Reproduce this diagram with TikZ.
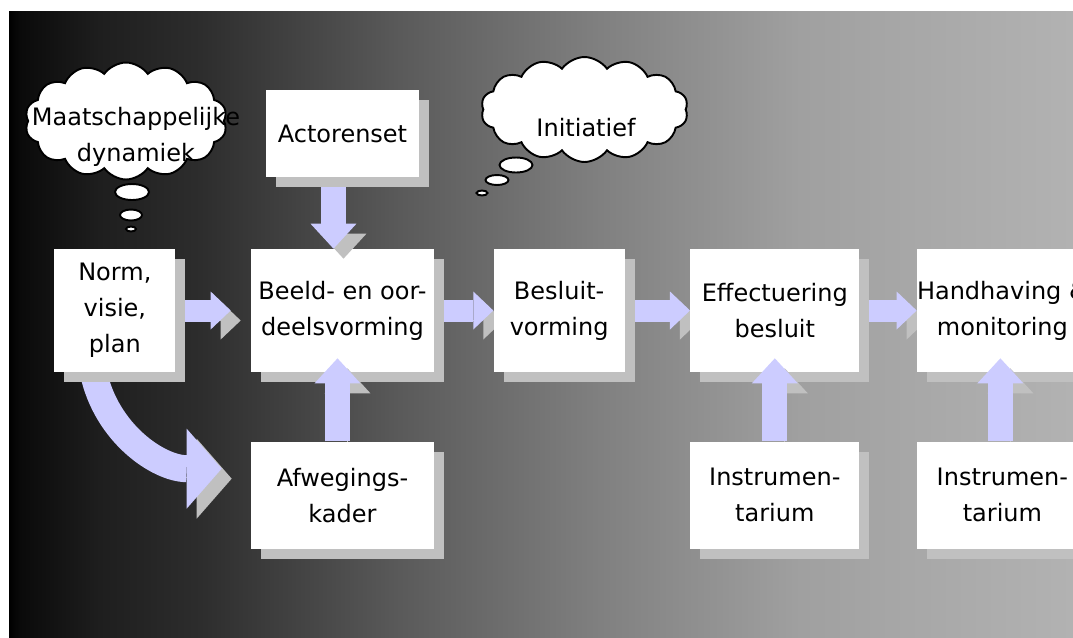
\documentclass[tikz,border=0pt]{standalone}
\usepackage{fontspec}
\usepackage{xcolor}
\usepackage{tikz}
\usetikzlibrary{positioning,arrows.meta,shapes.symbols}
\newfontfamily\boxfont{DejaVu Sans}
\pgfdeclarelayer{background}
\pgfdeclarelayer{hflow}
\pgfdeclarelayer{vflow}
\pgfdeclarelayer{front}
\pgfsetlayers{background,hflow,main,vflow,front}
\definecolor{lavender}{RGB}{204,204,255}
\definecolor{shadowgray}{RGB}{192,192,192}
\definecolor{bgA}{gray}{0.04}
\definecolor{bgB}{gray}{0.118}
\definecolor{bgC}{gray}{0.176}
\definecolor{bgD}{gray}{0.353}
\definecolor{bgE}{gray}{0.502}
\definecolor{bgF}{gray}{0.627}
\definecolor{bgG}{gray}{0.698}
\pgfdeclarehorizontalshading{stageshade}{100bp}{color(0bp)=(black); color(25bp)=(black); color(25.52bp)=(bgA); color(29.28bp)=(bgB); color(33.98bp)=(bgC); color(43.38bp)=(bgD); color(52.77bp)=(bgE); color(62.17bp)=(bgF); color(75bp)=(bgG); color(100bp)=(bgG)}
\tikzstyle{stage}=[rectangle, fill=white, draw=none, inner sep=0pt, align=center, font=\boxfont\fontsize{13.66}{20.5}\selectfont, preaction={fill=shadowgray, transform canvas={shift={(0.2cm,-0.2cm)}}}]
\tikzstyle{thought}=[cloud, draw=black, line width=1.1pt, fill=white, cloud puffs=14, cloud puff arc=110, aspect=1.9, inner sep=0pt]
\tikzstyle{thoughttext}=[align=center, inner sep=0pt, font=\boxfont\fontsize{13.66}{20.5}\selectfont]
\tikzstyle{bubble}=[draw=black, line width=1.1pt, fill=white]
\tikzstyle{hflowArrow}=[draw=lavender, line width=0.44cm, -{Triangle[width=0.76cm, length=0.4cm, line width=0pt]}, preaction={draw=shadowgray, transform canvas={shift={(0.2cm,-0.2cm)}}}]
\tikzstyle{vflowArrow}=[draw=lavender, line width=0.5cm, -{Triangle[width=0.92cm, length=0.5cm, line width=0pt]}, preaction={draw=shadowgray, transform canvas={shift={(0.2cm,-0.2cm)}}}]
\tikzstyle{bendArrow}=[draw=lavender, line width=0.54cm, -{Triangle[width=1.6cm, length=0.7cm, line width=0pt]}, preaction={draw=shadowgray, transform canvas={shift={(0.2cm,-0.2cm)}}}]

\begin{document}
\begin{tikzpicture}[x=0.02cm, y=-0.02cm]
        \useasboundingbox (0,0) rectangle (1073,637);
        \clip (0,0) rectangle (1073,637);
        \begin{pgfonlayer}{background}
            \fill[white] (0,0) rectangle (1073,637);
            \shade[shading=stageshade] (9,11) rectangle (1073,637);

            %Thought clouds
            \node [style=thought, minimum width=4.04cm, minimum height=2.34cm] (dynCloud) at (126,121) {};
            \node [style=thoughttext] (dynText) at ([xshift=0.2cm, yshift=-0.32cm]dynCloud.center) {Maatschappelijke\\dynamiek};
            \draw [style=bubble] (132,192) ellipse [x radius=0.34cm, y radius=0.16cm];
            \draw [style=bubble] (131,215) ellipse [x radius=0.22cm, y radius=0.11cm];
            \draw [style=bubble] (131,229) ellipse [x radius=0.1cm, y radius=0.05cm];

            \node [style=thought, minimum width=4.14cm, minimum height=2.1cm] (initCloud) at (584.5,109.5) {};
            \node [style=thoughttext] (initText) at ([xshift=0.03cm, yshift=-0.37cm]initCloud.center) {Initiatief};
            \draw [style=bubble] (516,165) ellipse [x radius=0.33cm, y radius=0.15cm];
            \draw [style=bubble] (497,180) ellipse [x radius=0.23cm, y radius=0.1cm];
            \draw [style=bubble] (482,193) ellipse [x radius=0.11cm, y radius=0.05cm];
        \end{pgfonlayer}

        \node [style=stage, minimum width=3.66cm, minimum height=2.46cm] (Beeld) at (342.5,310.5) {Beeld- en oor-\\deelsvorming};
        \node [style=stage, minimum width=2.42cm, minimum height=2.46cm, left=1.5cm of Beeld] (Norm) {Norm,\\visie,\\plan};
        \node [style=stage, minimum width=2.62cm, minimum height=2.46cm, right=1.18cm of Beeld] (Besluit) {Besluit-\\vorming};
        \node [style=stage, minimum width=3.38cm, minimum height=2.46cm, right=1.3cm of Besluit] (Effect) {Effectuering\\besluit};
        \node [style=stage, minimum width=3.4cm, minimum height=2.46cm, right=1.14cm of Effect] (Handh) {Handhaving \&\\monitoring};

        \begin{pgfonlayer}{front}
            \node [style=stage, minimum width=3.06cm, minimum height=1.74cm, above=1.42cm of Beeld] (Actor) {Actorenset};
            \node [style=stage, minimum width=3.66cm, minimum height=2.14cm, below=1.38cm of Beeld] (Afweg) {Afwegings-\\kader};
            \node [style=stage, minimum width=3.38cm, minimum height=2.14cm, below=1.38cm of Effect] (Instr1) {Instrumen-\\tarium};
            \node [style=stage, minimum width=3.4cm, minimum height=2.14cm, below=1.38cm of Handh] (Instr2) {Instrumen-\\tarium};
        \end{pgfonlayer}

        \begin{pgfonlayer}{hflow}
            \draw [style=hflowArrow] (Norm.east) -- ([xshift=-0.4cm]Beeld.west);
            \draw [style=hflowArrow] (Beeld.east) -- (Besluit.west);
            \draw [style=hflowArrow] (Besluit.east) -- (Effect.west);
            \draw [style=hflowArrow] (Effect.east) -- (Handh.west);
            \draw [style=bendArrow] ([xshift=-0.43cm]Norm.south) to[out=-78, in=180] ([xshift=-0.58cm, yshift=0.53cm]Afweg.west);
        \end{pgfonlayer}

        \begin{pgfonlayer}{vflow}
            \draw [style=vflowArrow] ([xshift=-0.18cm]Actor.south) -- ([xshift=-0.18cm]Beeld.north);
            \draw [style=vflowArrow] ([xshift=-0.1cm]Afweg.north) -- ([xshift=-0.1cm, yshift=0.28cm]Beeld.south);
            \draw [style=vflowArrow] (Instr1.north) -- ([yshift=0.28cm]Effect.south);
            \draw [style=vflowArrow] ([xshift=-0.04cm]Instr2.north) -- ([xshift=-0.04cm, yshift=0.28cm]Handh.south);
        \end{pgfonlayer}
\end{tikzpicture}
\end{document}
